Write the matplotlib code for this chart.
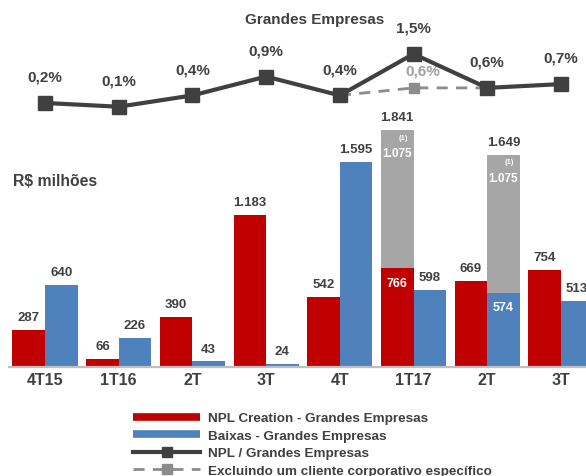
import matplotlib
matplotlib.use("Agg")
import matplotlib.pyplot as plt
from matplotlib.lines import Line2D

plt.rcParams['font.family'] = ['Liberation Sans', 'DejaVu Sans']
plt.rcParams['font.weight'] = 'bold'

# ---- data -------------------------------------------------------------
periods = ['4T15', '1T16', '2T', '3T', '4T', '1T17', '2T', '3T']
npl_creation = [287, 66, 390, 1183, 542, 766, 669, 754]
baixas = [640, 226, 43, 24, 1595, 598, 574, 513]
# one specific corporate client, stacked on top of the regular bars
client_creation = [0, 0, 0, 0, 0, 1075, 0, 0]
client_baixas = [0, 0, 0, 0, 0, 0, 1075, 0]
npl_ratio = [0.2, 0.1, 0.4, 0.9, 0.4, 1.5, 0.6, 0.7]
ratio_ex_idx = [4, 5, 6]
ratio_ex_client = [0.4, 0.6, 0.6]

RED = '#C00000'
BLUE = '#4F81BD'
GREY = '#A6A6A6'
DARK = '#404040'
DASH = '#8C8C8C'

W, H = 586, 477
fig = plt.figure(figsize=(W / 100, H / 100), dpi=100)

step = 73.7
x0 = 45.0
xlim = (-x0 / step, (W - x0) / step)
xs = list(range(len(periods)))
bw = 0.441
off = bw / 2


def fmt(v):
    return f"{v:,}".replace(',', '.')


# ---- bars -------------------------------------------------------------
base_px = 368
scale = 0.1287
ax = fig.add_axes([0, (H - base_px) / H, 1, (2000 * scale) / H])
ax.set_xlim(*xlim)
ax.set_ylim(0, 2000)
ax.axis('off')

xr = [x - off for x in xs]
xb = [x + off for x in xs]
ax.bar(xr, npl_creation, width=bw, color=RED, zorder=2)
ax.bar(xb, baixas, width=bw, color=BLUE, zorder=2)
ax.bar(xr, client_creation, width=bw, bottom=npl_creation, color=GREY, zorder=2)
ax.bar(xb, client_baixas, width=bw, bottom=baixas, color=GREY, zorder=2)
ax.plot([-0.5, xlim[1]], [0, 0], color='#BFBFBF', lw=1.6, zorder=3,
        solid_capstyle='butt', clip_on=False)

for xpos, vals, extras in ((xr, npl_creation, client_creation),
                           (xb, baixas, client_baixas)):
    for xx, v, extra in zip(xpos, vals, extras):
        if extra:
            # base value inside the bar, client part and total above it
            ax.annotate(fmt(v), (xx, v), xytext=(0, -6), textcoords='offset points',
                        ha='center', va='top', color='white', fontsize=9)
            top = v + extra
            ax.annotate(fmt(top), (xx, top), xytext=(0, 5), textcoords='offset points',
                        ha='center', va='bottom', color=DARK, fontsize=9.5)
            ax.annotate('(1)', (xx, top), xytext=(4.5, -5), textcoords='offset points',
                        ha='center', va='center', color='white', fontsize=5.5)
            ax.annotate(fmt(extra), (xx, top), xytext=(0, -16.5),
                        textcoords='offset points', ha='center', va='center',
                        color='white', fontsize=8.5)
        else:
            ax.annotate(fmt(v), (xx, v), xytext=(0, 5), textcoords='offset points',
                        ha='center', va='bottom', color=DARK, fontsize=9.5)

for i, p in enumerate(periods):
    ax.annotate(p, (i, 0), xytext=(0, -3.5), textcoords='offset points',
                ha='center', va='top', fontsize=11.5, color=DARK)

# ---- NPL ratio line ----------------------------------------------------
top_px = 130
lax = fig.add_axes([0, (H - top_px) / H, 1, top_px / H])
lax.set_xlim(*xlim)
lax.set_ylim((111.5 - top_px) / 37.7, 111.5 / 37.7)
lax.axis('off')

lax.plot([xs[i] for i in ratio_ex_idx], ratio_ex_client, color=DASH, lw=2,
         ls=(0, (4, 3)), zorder=2)
lax.plot([xs[5]], [ratio_ex_client[1]], 's', color=DASH, ms=7.5, zorder=3)
lax.plot(xs, npl_ratio, color=DARK, lw=3, marker='s', ms=9.5, zorder=4)

for i, v in enumerate(npl_ratio):
    lax.annotate(f"{v:.1f}%".replace('.', ','), (i, v), xytext=(0, 19),
                 textcoords='offset points', ha='center', va='center',
                 fontsize=11, color=DARK)
lax.annotate(f"{ratio_ex_client[1]:.1f}%".replace('.', ','), (xs[5], ratio_ex_client[1]),
             xytext=(6.5, 12.5), textcoords='offset points', ha='center', va='center',
             fontsize=11, color='#A0A0A0')

fig.text(315 / W, 1 - 20 / H, 'Grandes Empresas', ha='center', va='center',
         fontsize=11, color=DARK)
fig.text(13 / W, 1 - 181 / H, r'R\$ milhões', ha='left', va='center',
         fontsize=11.3, color=DARK)

# ---- legend ------------------------------------------------------------
handles = [
    Line2D([], [], color=RED, lw=5.5, solid_capstyle='butt'),
    Line2D([], [], color=BLUE, lw=5.5, solid_capstyle='butt'),
    Line2D([], [], color=DARK, lw=3, marker='s', ms=7),
    Line2D([], [], color=DASH, lw=2, ls=(0, (4, 3)), marker='s', ms=7),
]
labels = ['NPL Creation - Grandes Empresas', 'Baixas - Grandes Empresas',
          'NPL / Grandes Empresas', 'Excluindo um cliente corporativo específico']
fig.legend(handles, labels, loc='upper left', bbox_to_anchor=(133 / W, 1 - 413 / H),
           frameon=False, fontsize=9.7, handlelength=5, handletextpad=0.6,
           labelspacing=0.37, borderpad=0, borderaxespad=0, labelcolor=DARK)

fig.savefig('out.png', dpi=100)
